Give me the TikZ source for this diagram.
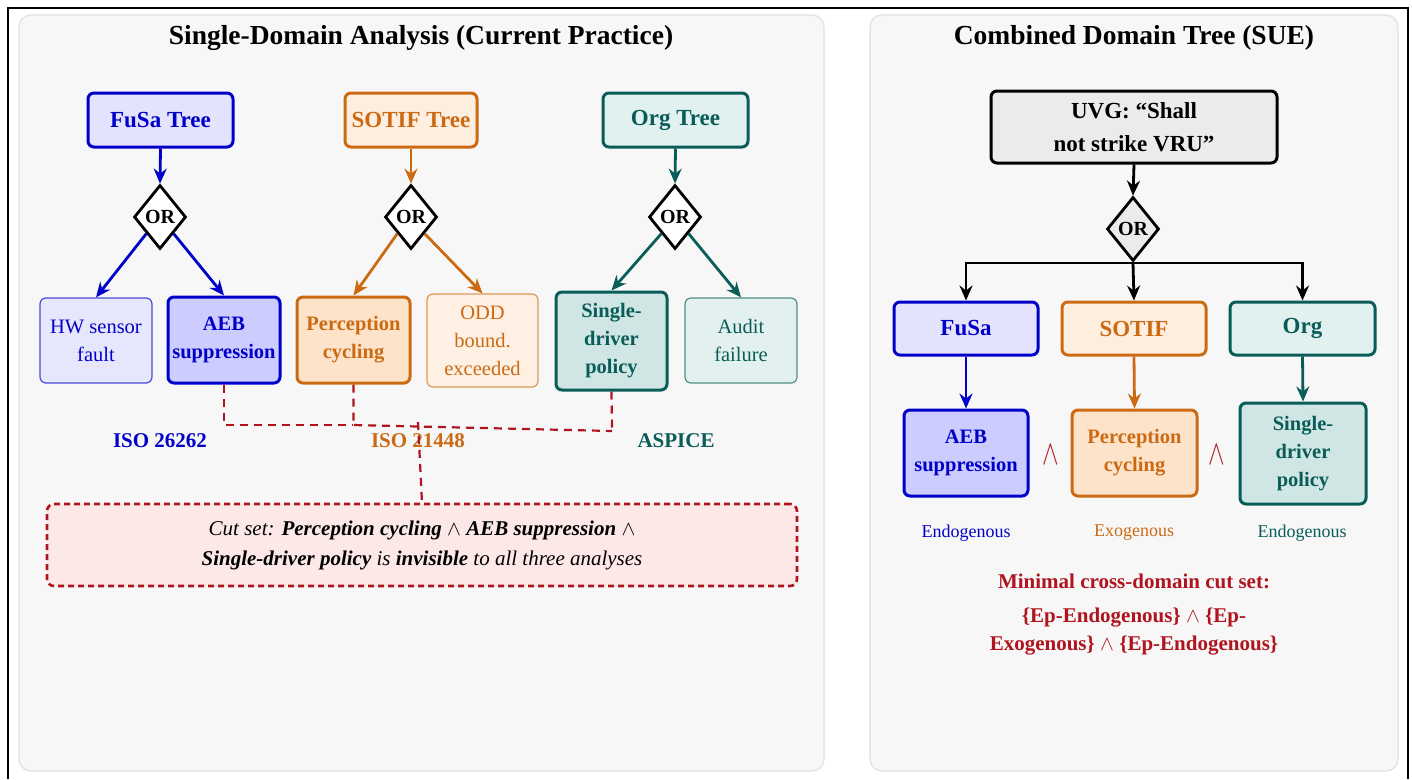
\documentclass[tikz,border=0pt]{standalone}
\usepackage{fontspec}
\setmainfont{Liberation Serif}
\usetikzlibrary{shapes.geometric,arrows.meta}
\definecolor{fusaC}{RGB}{0,0,200}
\definecolor{sotifC}{RGB}{204,106,20}
\definecolor{orgC}{RGB}{10,92,88}
\definecolor{redC}{RGB}{176,20,30}
\definecolor{fusaH}{HTML}{E3E3FD}
\definecolor{fusaL}{HTML}{E6E6FC}
\definecolor{fusaK}{HTML}{CCCCFF}
\definecolor{sotifH}{HTML}{FDEEE0}
\definecolor{sotifL}{HTML}{FEF0E3}
\definecolor{sotifK}{HTML}{FDE3C9}
\definecolor{orgH}{HTML}{E0F1EF}
\definecolor{orgL}{HTML}{E2F1EF}
\definecolor{orgK}{HTML}{CFE6E5}
\definecolor{panelF}{HTML}{F7F7F7}
\definecolor{panelD}{HTML}{E0E0E0}
\definecolor{cutF}{HTML}{FDE8E8}
\definecolor{grayF}{HTML}{EBEBEB}
\tikzset{
  panel/.style={rounded corners=12pt,fill=panelF,draw=panelD,line width=1.2pt},
  titletext/.style={font=\bfseries\fontsize{27.5}{30}\selectfont},
  hdr/.style={rounded corners=6pt,line width=3pt,minimum height=54pt,inner sep=0pt,
    font=\bfseries\fontsize{23}{33}\selectfont,align=center},
  thinleaf/.style={rounded corners=6pt,line width=1.2pt,inner sep=0pt,
    font=\fontsize{20.5}{28}\selectfont,align=center},
  thickleaf/.style={rounded corners=6pt,line width=3pt,inner sep=0pt,
    font=\bfseries\fontsize{20.5}{28}\selectfont,align=center},
  orgate/.style={diamond,draw=black,line width=2.8pt,fill=white,inner sep=1pt,
    minimum width=52pt,minimum height=64pt,font=\bfseries\fontsize{20}{22}\selectfont},
  arr/.style={line width=2.8pt,-{Stealth[length=15pt,width=13pt,inset=5pt]}},
  cutlink/.style={draw=redC,line width=2.2pt,dash pattern=on 8pt off 6pt},
  stdlabel/.style={font=\bfseries\fontsize{21}{24}\selectfont},
  eplabel/.style={font=\fontsize{18}{22}\selectfont},
  wedgemark/.style={text=redC,font=\fontsize{34}{34}\selectfont},
}
\begin{document}
\begin{tikzpicture}[x=1pt,y=-1pt]
\useasboundingbox (0,0) rectangle (1412,779);
\fill[white] (0,0) rectangle (1412,779);
% outer frame
\draw[line width=2.4pt,black] (8,779) -- (8,8) -- (1408,8) -- (1408,779);
% panels
\draw[panel] (19,15) rectangle (824,771);
\draw[panel] (870,15) rectangle (1398,771);
\node[titletext] (tl) at (421,38) {Single-Domain Analysis (Current Practice)};
\node[titletext] (tr) at (1134,38) {Combined Domain Tree (SUE)};

% ---------- left panel ----------
\node[hdr,draw=fusaC,fill=fusaH,text=fusaC,minimum width=145pt] (fusaT) at (160.5,120) {FuSa Tree};
\node[hdr,draw=sotifC,fill=sotifH,text=sotifC,minimum width=132pt] (sotifT) at (411,120) {SOTIF Tree};
\node[hdr,draw=orgC,fill=orgH,text=orgC,minimum width=145pt] (orgT) at (675.5,120) {Org Tree};

\node[orgate] (or1) at (160,217) {OR};
\node[orgate] (or2) at (411,217) {OR};
\node[orgate] (or3) at (675,217) {OR};

\node[thinleaf,draw=fusaC!70,fill=fusaL,text=fusaC,minimum width=112pt,minimum height=85pt] (hw) at (96,340.5) {HW sensor\\fault};
\node[thickleaf,draw=fusaC,fill=fusaK,text=fusaC,minimum width=112pt,minimum height=86pt] (aeb) at (224,340) {AEB\\suppression};
\node[thickleaf,draw=sotifC,fill=sotifK,text=sotifC,minimum width=113pt,minimum height=86pt] (perc) at (353.5,340) {Perception\\cycling};
\node[thinleaf,draw=sotifC!70,fill=sotifL,text=sotifC,minimum width=111pt,minimum height=93pt] (odd) at (482.5,340.5) {ODD\\bound.\\exceeded};
\node[thickleaf,draw=orgC,fill=orgK,text=orgC,minimum width=111pt,minimum height=98pt] (sdp) at (611.5,341) {Single-\\driver\\policy};
\node[thinleaf,draw=orgC!70,fill=orgL,text=orgC,minimum width=112pt,minimum height=85pt] (audit) at (741,340.5) {Audit\\failure};

\draw[arr,fusaC] (fusaT.south) -- (or1.north);
\draw[arr,sotifC] (sotifT.south) -- (or2.north);
\draw[arr,orgC] (orgT.south) -- (or3.north);
\draw[arr,fusaC] (or1.south west) -- (hw.north);
\draw[arr,fusaC] (or1.south east) -- (aeb.north);
\draw[arr,sotifC] (or2.south west) -- (perc.north);
\draw[arr,sotifC] (or2.south east) -- (odd.north);
\draw[arr,orgC] (or3.south west) -- (sdp.north);
\draw[arr,orgC] (or3.south east) -- (audit.north);

\node[stdlabel,text=fusaC] (std1) at (160,441) {ISO 26262};
\node[stdlabel,text=sotifC] (std2) at (418,441) {ISO 21448};
\node[stdlabel,text=orgC] (std3) at (676,441) {ASPICE};

\node[draw=redC,fill=cutF,line width=2.6pt,dash pattern=on 6pt off 4pt,rounded corners=7pt,
  minimum width=750pt,minimum height=82pt,inner sep=0pt,align=center,
  font=\itshape\fontsize{21}{30}\selectfont] (cut) at (422,545)
  {Cut set: \textbf{Perception cycling} $\wedge$ \textbf{AEB suppression} $\wedge$\\
   \textbf{Single-driver policy} is \textbf{invisible} to all three analyses};

\coordinate (ja) at (353,425);
\coordinate (jb) at (612,431);
\coordinate (jc) at (418,422);
\draw[cutlink] (aeb.south) |- (ja);
\draw[cutlink] (perc.south) |- (ja) -- (jb);
\draw[cutlink] (sdp.south) -- (jb);
\draw[cutlink] (jc) -- (cut.north);

% ---------- right panel ----------
\node[hdr,draw=black,fill=grayF,text=black,minimum width=286pt,minimum height=72pt] (uvg) at (1134,127) {UVG: “Shall\\not strike VRU”};
\node[orgate,fill=grayF] (or4) at (1133,229) {OR};
\draw[arr,black] (uvg.south) -- (or4.north);

\node[hdr,draw=fusaC,fill=fusaH,text=fusaC,minimum width=144pt,minimum height=53pt] (dfusa) at (966,328.5) {FuSa};
\node[hdr,draw=sotifC,fill=sotifH,text=sotifC,minimum width=144pt,minimum height=53pt] (dsotif) at (1134,328.5) {SOTIF};
\node[hdr,draw=orgC,fill=orgH,text=orgC,minimum width=145pt,minimum height=53pt] (dorg) at (1302.5,328.5) {Org};

\coordinate (br) at (1133,263);
\draw[line width=2.8pt,black] (or4.south) -- (br);
\draw[arr,black] (br) -| (dfusa.north);
\draw[arr,black] (br) -- (dsotif.north);
\draw[arr,black] (br) -| (dorg.north);

\node[thickleaf,draw=fusaC,fill=fusaK,text=fusaC,minimum width=124pt,minimum height=86pt] (raeb) at (966,453) {AEB\\suppression};
\node[thickleaf,draw=sotifC,fill=sotifK,text=sotifC,minimum width=125pt,minimum height=86pt] (rperc) at (1134.5,453) {Perception\\cycling};
\node[thickleaf,draw=orgC,fill=orgK,text=orgC,minimum width=126pt,minimum height=101pt] (rsdp) at (1303,453.5) {Single-\\driver\\policy};

\draw[arr,fusaC] (dfusa.south) -- (raeb.north);
\draw[arr,sotifC] (dsotif.south) -- (rperc.north);
\draw[arr,orgC] (dorg.south) -- (rsdp.north);

\node[wedgemark] (w1) at (1050.5,455) {\scalebox{1}[1.4]{$\wedge$}};
\node[wedgemark] (w2) at (1217,455) {\scalebox{1}[1.4]{$\wedge$}};

\node[eplabel,text=fusaC] (e1) at (966,533) {Endogenous};
\node[eplabel,text=sotifC] (e2) at (1134,533) {Exogenous};
\node[eplabel,text=orgC] (e3) at (1302,533) {Endogenous};

\node[text=redC,font=\bfseries\fontsize{21}{24}\selectfont] (mc) at (1134,581) {Minimal cross-domain cut set:};
\node[text=redC,font=\bfseries\fontsize{21}{28}\selectfont,align=center] (mcs) at (1134,632)
  {\{Ep-Endogenous\} $\wedge$ \{Ep-\\Exogenous\} $\wedge$ \{Ep-Endogenous\}};
\end{tikzpicture}
\end{document}
